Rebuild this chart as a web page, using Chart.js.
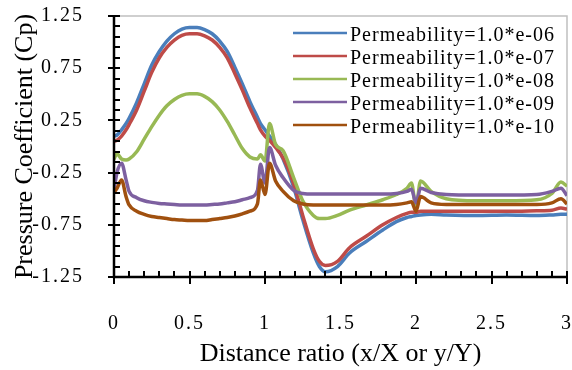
<!DOCTYPE html>
<html>
<head>
<meta charset="utf-8">
<script src="https://cdn.jsdelivr.net/npm/chart.js@4.4.0/dist/chart.umd.min.js"></script>
<style>
    html, body { margin: 0; padding: 0; background: #fff; }
    #wrap { width: 572px; height: 370px; }
</style>
</head>
<body>
<div id="wrap"><canvas id="cpChart" width="572" height="370"></canvas></div>
<script>
// distance ratio x/X or y/Y (shared by all series)
const distanceRatio = [0, 0.02, 0.05, 0.08, 0.1, 0.15, 0.2, 0.25, 0.3, 0.35, 0.4, 0.45, 0.5, 0.55, 0.6, 0.65, 0.7, 0.75, 0.8, 0.85, 0.9, 0.95, 0.97, 1.0, 1.03, 1.07, 1.12, 1.19, 1.25, 1.32, 1.36, 1.4, 1.48, 1.56, 1.67, 1.78, 1.87, 1.94, 1.97, 2.0, 2.03, 2.1, 2.2, 2.4, 2.6, 2.8, 2.9, 2.96, 3.0];

const cpPerm06 = [0.10, 0.11, 0.16, 0.22, 0.27, 0.42, 0.60, 0.78, 0.91, 1.01, 1.08, 1.125, 1.14, 1.14, 1.12, 1.08, 1.01, 0.91, 0.76, 0.60, 0.43, 0.28, 0.22, 0.16, 0.10, 0.02, -0.12, -0.39, -0.70, -1.02, -1.15, -1.20, -1.15, -1.02, -0.91, -0.80, -0.72, -0.68, -0.67, -0.66, -0.655, -0.65, -0.655, -0.66, -0.655, -0.66, -0.655, -0.65, -0.65];
const cpPerm07 = [0.05, 0.06, 0.10, 0.16, 0.21, 0.35, 0.53, 0.71, 0.85, 0.95, 1.02, 1.065, 1.08, 1.08, 1.06, 1.02, 0.95, 0.85, 0.70, 0.54, 0.37, 0.22, 0.16, 0.10, 0.06, -0.01, -0.11, -0.36, -0.66, -0.98, -1.10, -1.14, -1.10, -0.97, -0.86, -0.75, -0.68, -0.64, -0.63, -0.63, -0.62, -0.62, -0.62, -0.62, -0.62, -0.615, -0.61, -0.59, -0.60];
const cpPerm08 = [-0.12, -0.07, -0.12, -0.13, -0.12, -0.05, 0.07, 0.19, 0.30, 0.39, 0.45, 0.49, 0.505, 0.505, 0.48, 0.43, 0.35, 0.24, 0.11, -0.02, -0.10, -0.12, -0.08, -0.14, 0.22, 0.02, -0.04, -0.30, -0.52, -0.66, -0.69, -0.69, -0.66, -0.61, -0.56, -0.51, -0.46, -0.40, -0.35, -0.58, -0.33, -0.43, -0.50, -0.52, -0.52, -0.51, -0.45, -0.34, -0.38];
const cpPerm09 = [-0.42, -0.25, -0.16, -0.32, -0.43, -0.49, -0.52, -0.535, -0.545, -0.55, -0.555, -0.56, -0.56, -0.56, -0.56, -0.555, -0.55, -0.54, -0.53, -0.51, -0.49, -0.42, -0.17, -0.35, -0.01, -0.18, -0.30, -0.42, -0.45, -0.455, -0.455, -0.455, -0.455, -0.455, -0.455, -0.455, -0.45, -0.43, -0.41, -0.54, -0.40, -0.44, -0.46, -0.465, -0.465, -0.46, -0.43, -0.40, -0.47];
const cpPerm10 = [-0.44, -0.40, -0.32, -0.48, -0.56, -0.62, -0.65, -0.67, -0.68, -0.69, -0.70, -0.705, -0.71, -0.71, -0.71, -0.70, -0.69, -0.68, -0.665, -0.645, -0.62, -0.55, -0.32, -0.46, -0.16, -0.33, -0.43, -0.52, -0.55, -0.56, -0.56, -0.56, -0.56, -0.56, -0.56, -0.56, -0.555, -0.54, -0.53, -0.62, -0.48, -0.54, -0.555, -0.555, -0.555, -0.555, -0.54, -0.50, -0.55];

const seriesLabels = ['Permeability=1.0*e-06', 'Permeability=1.0*e-07', 'Permeability=1.0*e-08', 'Permeability=1.0*e-09', 'Permeability=1.0*e-10'];
const seriesValues = [cpPerm06, cpPerm07, cpPerm08, cpPerm09, cpPerm10];
const seriesColors = ['#4A7EBB', '#BE4B48', '#98B954', '#7D60A0', '#A0500F'];

const FONT = 'Liberation Serif';

// frame, minor/major ticks, axis titles and the in-plot legend
const decorPlugin = {
    id: 'decor',
    beforeDraw(chart) {
        chart.ctx.letterSpacing = '2px';
    },
    beforeDatasetsDraw(chart) {
        const ctx = chart.ctx, a = chart.chartArea;
        ctx.save();
        ctx.strokeStyle = '#c0c0c0';
        ctx.lineWidth = 1.5;
        ctx.beginPath();
        ctx.moveTo(a.left, a.top);
        ctx.lineTo(a.right, a.top);
        ctx.lineTo(a.right, a.bottom);
        ctx.stroke();
        ctx.restore();
    },
    afterDatasetsDraw(chart) {
        const ctx = chart.ctx, a = chart.chartArea;
        const xs = chart.scales.x, ys = chart.scales.y;
        ctx.save();
        ctx.strokeStyle = '#000';
        ctx.lineWidth = 2.5;
        ctx.beginPath();
        ctx.moveTo(a.left, a.top);
        ctx.lineTo(a.left, a.bottom);
        ctx.lineTo(a.right, a.bottom);
        ctx.stroke();

        ctx.lineWidth = 2;
        ctx.beginPath();
        for (let i = 0; i <= 30; i++) {
            const px = Math.round(xs.getPixelForValue(i / 10));
            if (i % 5 === 0) {
                ctx.moveTo(px, a.bottom - 6);
                ctx.lineTo(px, a.bottom + 7);
            } else {
                ctx.moveTo(px, a.bottom - 6);
                ctx.lineTo(px, a.bottom);
            }
        }
        for (let i = 0; i <= 25; i++) {
            const py = Math.round(ys.getPixelForValue(-1.25 + i / 10));
            if (i % 5 === 0) {
                ctx.moveTo(a.left - 6, py);
                ctx.lineTo(a.left + 6, py);
            } else {
                ctx.moveTo(a.left, py);
                ctx.lineTo(a.left + 6, py);
            }
        }
        ctx.stroke();
        ctx.restore();
    },
    afterDraw(chart) {
        const ctx = chart.ctx, a = chart.chartArea;
        ctx.save();
        ctx.letterSpacing = '0px';
        ctx.fillStyle = '#000';
        ctx.font = '26px "' + FONT + '"';
        ctx.textAlign = 'center';
        ctx.textBaseline = 'middle';
        ctx.fillText('Distance ratio (x/X or y/Y)', (a.left + a.right) / 2, 354);
        ctx.save();
        ctx.translate(25, (a.top + a.bottom) / 2);
        ctx.rotate(-Math.PI / 2);
        ctx.fillText('Pressure Coefficient (Cp)', 0, 0);
        ctx.restore();

        // legend box inside the plot
        ctx.fillStyle = '#fff';
        ctx.fillRect(283, a.top + 2, a.right - 284, 118);
        ctx.letterSpacing = '1px';
        ctx.font = '20px "' + FONT + '"';
        ctx.textAlign = 'left';
        ctx.textBaseline = 'alphabetic';
        chart.data.datasets.forEach((ds, i) => {
            const y = 33 + i * 23;
            ctx.strokeStyle = ds.borderColor;
            ctx.lineWidth = 2.5;
            ctx.beginPath();
            ctx.moveTo(293, y);
            ctx.lineTo(347, y);
            ctx.stroke();
            ctx.fillStyle = '#000';
            ctx.fillText(ds.label, 350, y + 8);
        });
        ctx.restore();
    }
};

const datasets = seriesValues.map((vals, i) => ({
    label: seriesLabels[i],
    data: distanceRatio.map((x, j) => ({ x: x, y: vals[j] })),
    borderColor: seriesColors[i],
    backgroundColor: seriesColors[i],
    borderWidth: 3.5,
    pointRadius: 0,
    cubicInterpolationMode: 'monotone',
    fill: false,
    order: seriesValues.length - i
}));

new Chart(document.getElementById('cpChart').getContext('2d'), {
    type: 'line',
    data: { datasets: datasets },
    plugins: [decorPlugin],
    options: {
        responsive: false,
        animation: false,
        layout: { padding: { top: 16, right: 5, left: 0, bottom: 0 } },
        plugins: {
            legend: { display: false },
            tooltip: { enabled: false }
        },
        scales: {
            x: {
                type: 'linear',
                min: 0,
                max: 3,
                grid: { display: false },
                border: { display: false },
                ticks: {
                    stepSize: 0.5,
                    autoSkip: false,
                    maxRotation: 0,
                    padding: 27,
                    color: '#000',
                    font: { family: FONT, size: 20 },
                    callback: v => String(v)
                },
                afterFit(scale) {
                    scale.height = 93;
                    scale.paddingLeft = 0;
                    scale.paddingRight = 0;
                }
            },
            y: {
                type: 'linear',
                min: -1.25,
                max: 1.25,
                grid: { display: false },
                border: { display: false },
                ticks: {
                    stepSize: 0.5,
                    padding: 22,
                    color: '#000',
                    font: { family: FONT, size: 20 },
                    callback: v => v.toFixed(2)
                },
                afterFit(scale) {
                    scale.width = 114;
                    scale.paddingTop = 0;
                    scale.paddingBottom = 0;
                }
            }
        }
    }
});
</script>
</body>
</html>
